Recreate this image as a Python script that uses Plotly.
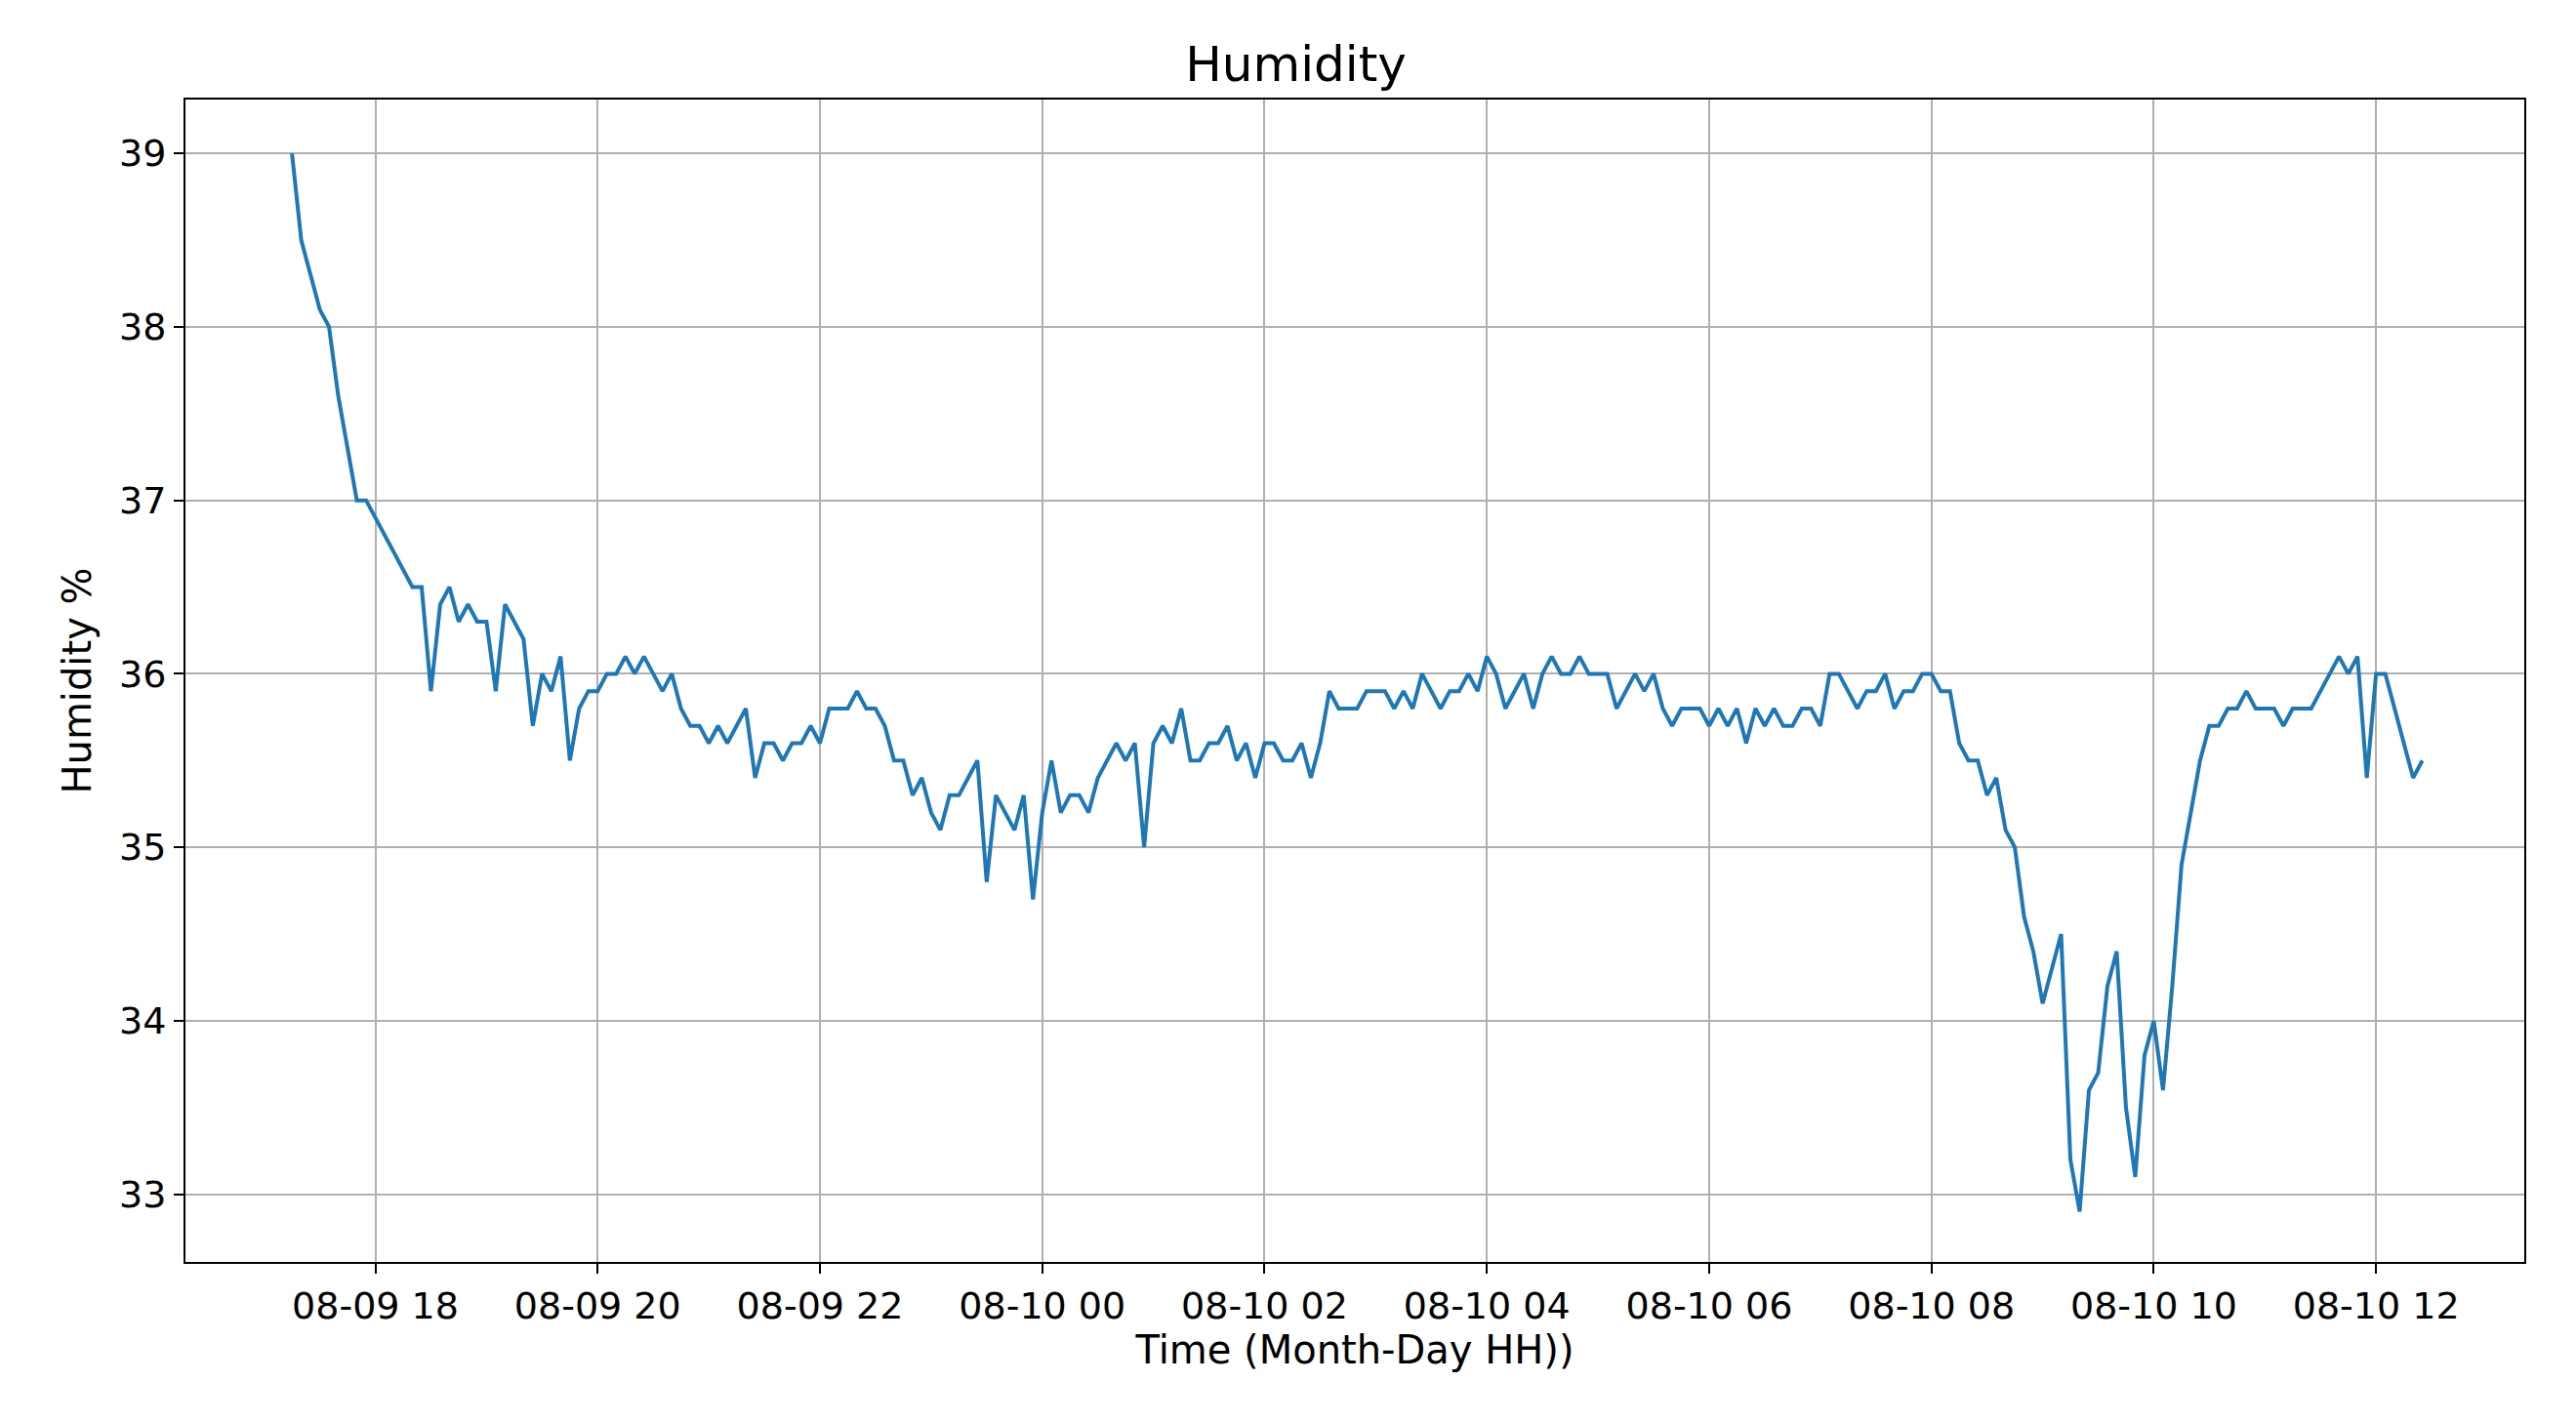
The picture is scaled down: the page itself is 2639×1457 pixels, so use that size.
import plotly.graph_objects as go
import pandas as pd

start_time = "2024-08-09 17:15"
step_minutes = 5
humidity = [
 39.0, 38.5, 38.3, 38.1, 38.0, 37.6, 37.3, 37.0, 37.0,
 36.9, 36.8, 36.7, 36.6, 36.5, 36.5, 35.9, 36.4, 36.5, 36.3, 36.4, 36.3,
 36.3, 35.9, 36.4, 36.3, 36.2, 35.7, 36.0, 35.9, 36.1, 35.5, 35.8, 35.9,
 35.9, 36.0, 36.0, 36.1, 36.0, 36.1, 36.0, 35.9, 36.0, 35.8, 35.7, 35.7,
 35.6, 35.7, 35.6, 35.7, 35.8, 35.4, 35.6, 35.6, 35.5, 35.6, 35.6, 35.7,
 35.6, 35.8, 35.8, 35.8, 35.9, 35.8, 35.8, 35.7, 35.5, 35.5, 35.3, 35.4,
 35.2, 35.1, 35.3, 35.3, 35.4, 35.5, 34.8, 35.3, 35.2, 35.1, 35.3, 34.7,
 35.2, 35.5, 35.2, 35.3, 35.3, 35.2, 35.4, 35.5, 35.6, 35.5, 35.6, 35.0,
 35.6, 35.7, 35.6, 35.8, 35.5, 35.5, 35.6, 35.6, 35.7, 35.5, 35.6, 35.4,
 35.6, 35.6, 35.5, 35.5, 35.6, 35.4, 35.6, 35.9, 35.8, 35.8, 35.8, 35.9,
 35.9, 35.9, 35.8, 35.9, 35.8, 36.0, 35.9, 35.8, 35.9, 35.9, 36.0, 35.9,
 36.1, 36.0, 35.8, 35.9, 36.0, 35.8, 36.0, 36.1, 36.0, 36.0, 36.1, 36.0,
 36.0, 36.0, 35.8, 35.9, 36.0, 35.9, 36.0, 35.8, 35.7, 35.8, 35.8, 35.8,
 35.7, 35.8, 35.7, 35.8, 35.6, 35.8, 35.7, 35.8, 35.7, 35.7, 35.8, 35.8,
 35.7, 36.0, 36.0, 35.9, 35.8, 35.9, 35.9, 36.0, 35.8, 35.9, 35.9, 36.0,
 36.0, 35.9, 35.9, 35.6, 35.5, 35.5, 35.3, 35.4, 35.1, 35.0, 34.6, 34.4,
 34.1, 34.3, 34.5, 33.2, 32.9, 33.6, 33.7, 34.2, 34.4, 33.5, 33.1, 33.8,
 34.0, 33.6, 34.2, 34.9, 35.2, 35.5, 35.7, 35.7, 35.8, 35.8, 35.9, 35.8,
 35.8, 35.8, 35.7, 35.8, 35.8, 35.8, 35.9, 36.0, 36.1, 36.0, 36.1, 35.4,
 36.0, 36.0, 35.8, 35.6, 35.4, 35.5,
]
times = pd.date_range(start_time, periods=len(humidity), freq=f"{step_minutes}min")

fig = go.Figure(go.Scatter(x=times, y=humidity, mode="lines",
                           line=dict(color="#1f77b4", width=4)))
axis_common = dict(showline=True, linecolor="black", linewidth=2, mirror=True,
                   ticks="outside", ticklen=10, tickwidth=2, tickcolor="black",
                   showgrid=True, gridcolor="#b0b0b0", gridwidth=2, zeroline=False,
                   tickfont=dict(family="DejaVu Sans", size=38, color="black"))
fig.update_xaxes(**axis_common, range=["2024-08-09 16:17:30", "2024-08-10 13:20"],
                 tick0="2024-08-09 18:00", dtick=2*3600*1000, tickformat="%m-%d %H",
                 title=dict(text="Time (Month-Day HH))", font=dict(family="DejaVu Sans", size=40, color="black"), standoff=8))
fig.update_yaxes(**axis_common, range=[32.61, 39.31], dtick=1,
                 title=dict(text="Humidity %", font=dict(family="DejaVu Sans", size=40, color="black"), standoff=16))
fig.update_layout(width=2639, height=1457, plot_bgcolor="white", paper_bgcolor="white",
                  margin=dict(l=182, r=61, t=94, b=172), showlegend=False,
                  title=dict(text="Humidity", x=0.5, xanchor="center", y=1-57/1457, yanchor="middle",
                             font=dict(family="DejaVu Sans", size=50, color="black")))
fig.write_html("out.html")
